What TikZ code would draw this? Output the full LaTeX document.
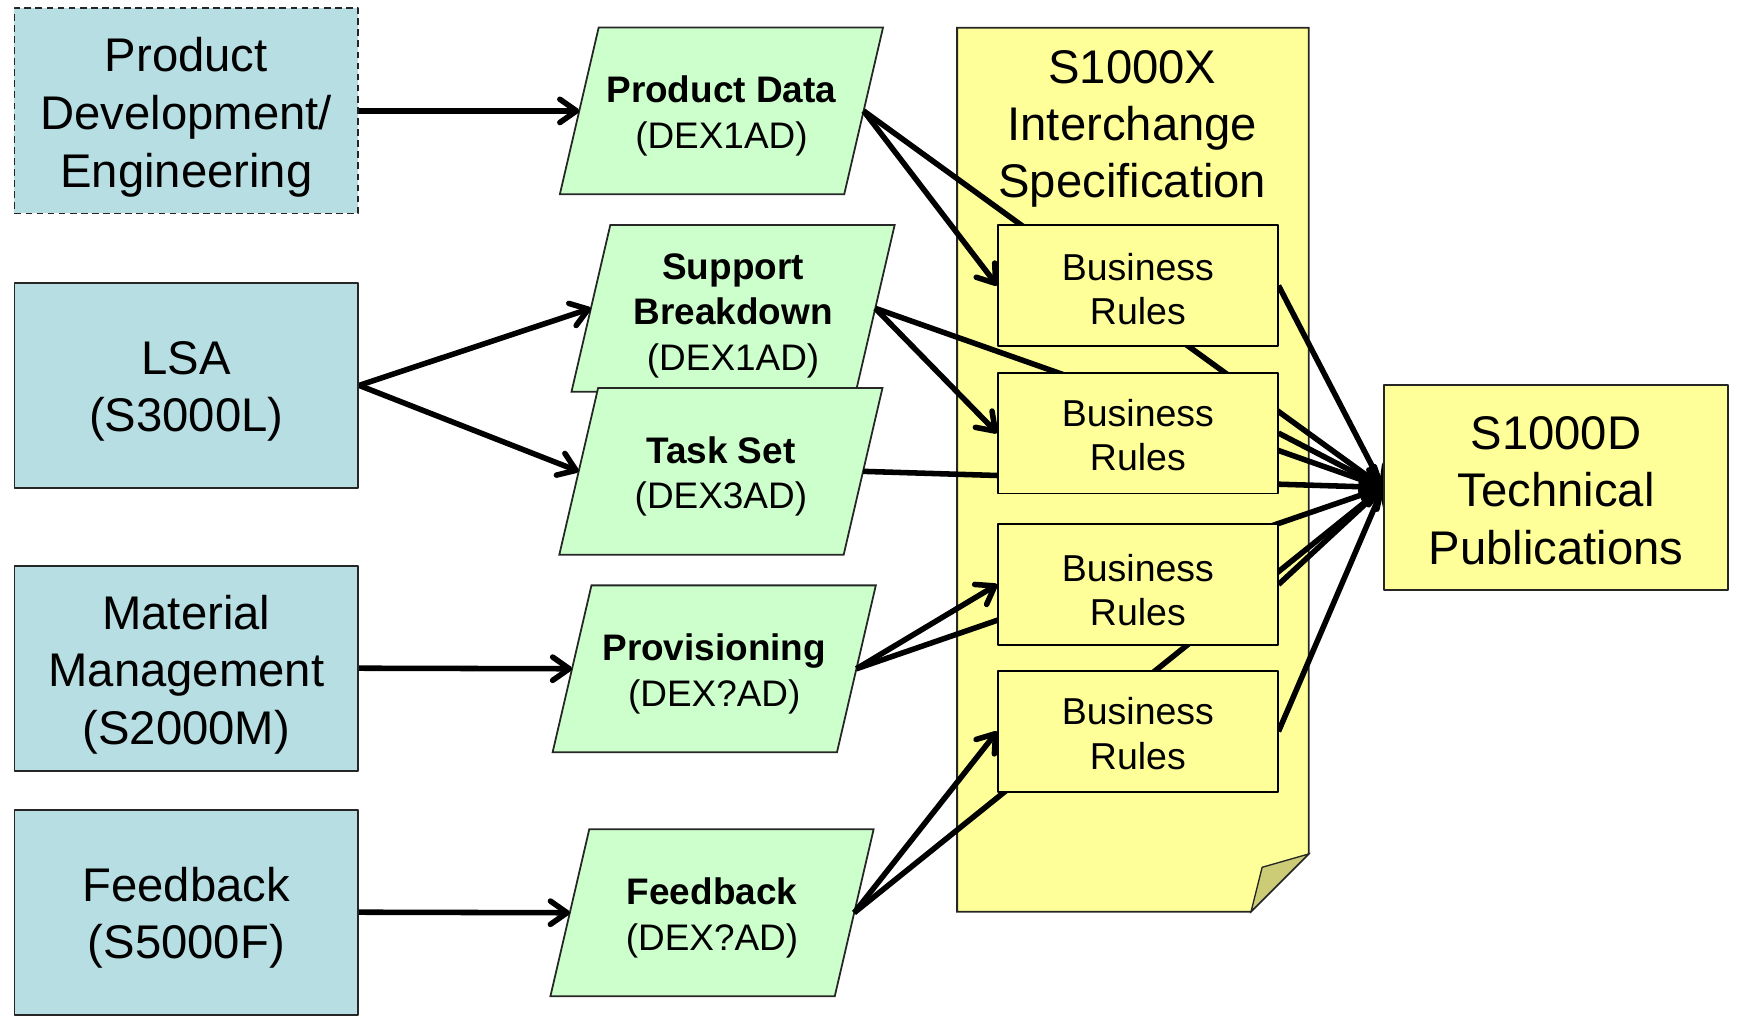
\documentclass[tikz,border=0pt]{standalone}
\usepackage{fontspec}
\setmainfont{Liberation Sans}
\usetikzlibrary{arrows.meta,calc}
\pgfdeclarelayer{bg}
\pgfdeclarelayer{conn}
\pgfsetlayers{bg,conn,main}
\definecolor{bluefill}{RGB}{183,222,226}
\definecolor{greenfill}{RGB}{204,255,204}
\definecolor{yellowfill}{RGB}{255,255,153}
\definecolor{foldfill}{RGB}{204,204,119}
\newcommand\lowered[2]{\raisebox{-#1}[\height][\depth]{\begin{tabular}{@{}c@{}}#2\end{tabular}}}
\begin{document}
\begin{tikzpicture}[x=1pt,y=-1pt,line join=round,
  bigfont/.style={font=\fontsize{42.6}{52}\selectfont},
  srcbox/.style={draw=black!85, line width=1.6pt, fill=bluefill, minimum width=310pt, minimum height=185pt, inner sep=0pt, bigfont},
  pubbox/.style={srcbox, fill=yellowfill},
  paratext/.style={minimum width=256pt, minimum height=150pt, inner sep=0pt, font=\fontsize{33.3}{41}\selectfont},
  parashape/.style={fill=greenfill, draw=black!85, line width=1.6pt},
  rulebox/.style={draw=black, line width=1.6pt, fill=yellowfill, minimum width=252pt, minimum height=109pt, inner sep=0pt, font=\fontsize{33.8}{40}\selectfont},
  docshape/.style={draw=black!85, line width=1.6pt, fill=yellowfill},
  foldshape/.style={draw=black!85, line width=1.2pt, fill=foldfill},
  link/.style={line width=5pt, -{Straight Barb[length=15pt,width=21pt,round]}}
]
\useasboundingbox (0,0) rectangle (1568,923);

% source boxes
\node[srcbox, dash pattern=on 6pt off 4pt] (pde) at (168,100) {\lowered{6.5pt}{Product\\Development/\\Engineering}};
\node[srcbox] (lsa) at (168,347.5) {\lowered{5.5pt}{LSA\\(S3000L)}};
\node[srcbox] (mm) at (168,602.5) {\lowered{6.5pt}{Material\\Management\\(S2000M)}};
\node[srcbox] (fbs) at (168,822.5) {\lowered{5.5pt}{Feedback\\(S5000F)}};

% data exchange parallelograms (text nodes)
\node[paratext] (pd) at (650.5,100) {\lowered{5pt}{\textbf{Product Data}\\(DEX1AD)}};
\node[paratext] (sb) at (661,278) {\lowered{6.5pt}{\textbf{Support}\\\textbf{Breakdown}\\(DEX1AD)}};
\node[paratext] (ts) at (650,425) {\lowered{5pt}{\textbf{Task Set}\\(DEX3AD)}};
\node[paratext] (pr) at (644,603) {\lowered{5pt}{\textbf{Provisioning}\\(DEX?AD)}};
\node[paratext] (fb) at (642,823) {\lowered{5pt}{\textbf{Feedback}\\(DEX?AD)}};

% S1000X title
\node[inner sep=0pt, font=\fontsize{42.6}{51.5}\selectfont] (sxt) at (1021,113.5) {\lowered{3pt}{S1000X\\Interchange\\Specification}};

% business rules
\node[rulebox] (br1) at (1026,257.5) {\lowered{7.5pt}{Business\\Rules}};
\node[rulebox] (br2) at (1026,390.5) {\lowered{6pt}{Business\\Rules}};
\node[rulebox] (br3) at (1026,527) {\lowered{9pt}{Business\\Rules}};
\node[rulebox] (br4) at (1026,659.5) {\lowered{6pt}{Business\\Rules}};

% S1000D
\node[pubbox] (sd) at (1403,439.5) {\lowered{7pt}{S1000D\\Technical\\Publications}};

\begin{pgfonlayer}{bg}
  \draw[docshape] (863,25) -- (1180,25) -- (1180,770) -- (1128,822) -- (863,822) -- cycle;
  \draw[foldshape] (1180,770) -- (1138,782) -- (1128,822) -- cycle;
  \foreach \n in {pd,sb,ts,pr,fb}{
    \draw[parashape] ([xshift=17.5pt]\n.north west) -- ([xshift=17.5pt]\n.north east)
      -- ([xshift=-17.5pt]\n.south east) -- ([xshift=-17.5pt]\n.south west) -- cycle;
  }
\end{pgfonlayer}

\begin{pgfonlayer}{conn}
  \draw[link] (pde.east) -- (pd.west);
  \draw[link] (lsa.east) -- (sb.west);
  \draw[link] (lsa.east) -- (ts.west);
  \draw[link] (mm.east) -- (pr.west);
  \draw[link] (fbs.east) -- (fb.west);
  \draw[link] (pd.east) -- (br1.west);
  \draw[link] (sb.east) -- (br2.west);
  \draw[link] (pr.east) -- (br3.west);
  \draw[link] (fb.east) -- (br4.west);
  \foreach \n in {pd,sb,ts,pr,fb,br1,br2,br3,br4}{
    \draw[link] (\n.east) -- (sd.west);
  }
\end{pgfonlayer}
\end{tikzpicture}
\end{document}
